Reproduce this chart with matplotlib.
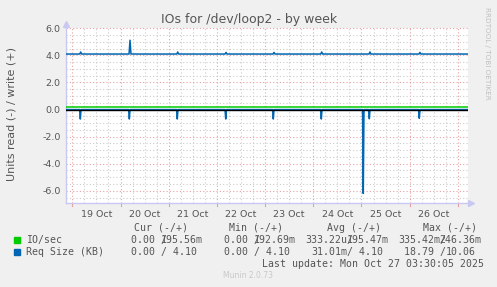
import matplotlib
matplotlib.use("Agg")
import matplotlib.pyplot as plt
from matplotlib.patches import Rectangle

# -------------------- data (days since 18 Oct 00:00) -------------------- #
x_start, x_end = 0.869, 9.216
day_ticks = [1.5, 2.5, 3.5, 4.5, 5.5, 6.5, 7.5, 8.5]
day_labels = ["19 Oct", "20 Oct", "21 Oct", "22 Oct", "23 Oct", "24 Oct", "25 Oct", "26 Oct"]

io_write = 0.195          # IO/sec (+), flat all week
io_read = 0.0             # IO/sec (-), ~333u

req_write_base = 4.10
req_write_spike_days = [1.174, 2.197, 3.187, 4.189, 5.185, 6.174, 7.176, 8.213]
req_write_spike_vals = [4.25, 5.12, 4.25, 4.22, 4.22, 4.25, 4.25, 4.22]

req_read_base = 0.0
req_read_spike_days = [1.166, 2.183, 3.178, 4.183, 5.170, 6.166, 7.037, 7.162, 8.199]
req_read_spike_vals = [-0.70, -0.70, -0.70, -0.70, -0.70, -0.70, -6.20, -0.68, -0.65]

legend_names = ["IO/sec", "Req Size (KB)"]
legend_colors = ["#00CC00", "#0066B3"]
cur_vals = [("0.00 ", "195.56m"), ("0.00 ", " 4.10")]
min_vals = [("0.00 ", "192.69m"), ("0.00 ", " 4.10")]
avg_vals = [("333.22u", "195.47m"), ("31.01m", " 4.10")]
max_vals = [("335.42m", "246.36m"), ("18.79 ", "10.06")]

W, H = 497, 287
BG = "#F0F0F0"
TXT = "#555555"
AXC = "#C8C8F0"
MONO = "DejaVu Sans Mono"


def spiky(base, days, vals, half=0.02):
    ts, vs = [x_start], [base]
    for d, v in zip(days, vals):
        ts += [d - half, d, d + half]
        vs += [base, v, base]
    ts.append(x_end)
    vs.append(base)
    return ts, vs


def fx(px):
    return px / W


def fy(py):
    return 1 - py / H


fig = plt.figure(figsize=(W / 100, H / 100), dpi=100, facecolor=BG)
ax = fig.add_axes([fx(66), fy(203.4), fx(468.3) - fx(66), fy(28.3) - fy(203.4)])
ax.set_facecolor("white")
ax.set_xlim(x_start, x_end)
ax.set_ylim(-6.93, 6.0)

# grid: pink majors, grey minors (6h / 0.5)
for d in range(1, 10):
    ax.axvline(d, color="#E8A0A0", lw=0.8, ls=(0, (1, 2)), zorder=1)
for q in range(4, 37):
    if q % 4:
        ax.axvline(q / 4, color="#CCCCCC", lw=0.8, ls=(0, (1, 2)), zorder=1)
for k in range(-13, 13):
    y = k * 0.5
    if k % 4 == 0:
        ax.axhline(y, color="#E8A0A0", lw=0.8, ls=(0, (1, 2)), zorder=1, clip_on=False)
    else:
        ax.axhline(y, color="#CCCCCC", lw=0.8, ls=(0, (1, 2)), zorder=1)

# series
t, v = spiky(req_write_base, req_write_spike_days, req_write_spike_vals)
ax.plot(t, v, color=legend_colors[1], lw=1.1, zorder=3)
t, v = spiky(req_read_base, req_read_spike_days, req_read_spike_vals, half=0.015)
ax.plot(t, v, color=legend_colors[1], lw=1.1, zorder=3)
ax.plot([x_start, x_end], [io_write, io_write], color=legend_colors[0], lw=1.1, zorder=4)
ax.plot([x_start, x_end], [io_read, io_read], color="black", lw=1.0, zorder=5)

# axes with arrows
for s in ["top", "right"]:
    ax.spines[s].set_visible(False)
for s in ["left", "bottom"]:
    ax.spines[s].set_color(AXC)
    ax.spines[s].set_linewidth(1.0)
ax.plot([0, 0], [1.0, 1.025], color=AXC, lw=1.0, transform=ax.transAxes, clip_on=False)
ax.plot([1.0, 1.006], [0, 0], color=AXC, lw=1.0, transform=ax.transAxes, clip_on=False)
ax.plot([0], [1.025], marker="^", ms=4, color=AXC, transform=ax.transAxes, clip_on=False)
ax.plot([1.006], [0], marker=">", ms=4, color=AXC, transform=ax.transAxes, clip_on=False)

ax.set_xticks(day_ticks)
ax.set_xticklabels(day_labels)
ax.set_yticks([-6, -4, -2, 0, 2, 4, 6])
ax.set_yticklabels(["-6.0", "-4.0", "-2.0", "0.0", "2.0", "4.0", "6.0"])
ax.tick_params(length=0, labelsize=6.8, colors=TXT, pad=4)
ax.tick_params(axis="x", pad=5)
for d in range(1, 10):
    ax.plot([d, d], [-0.012, 0], color="#E8A0A0", lw=0.8, transform=ax.get_xaxis_transform(), clip_on=False)

fig.text(fx(248.7), fy(19.3), "IOs for /dev/loop2 - by week", ha="center", va="center",
         fontsize=9, color=TXT)
fig.text(fx(11.5), fy(114), "Units read (-) / write (+)", rotation=90, ha="center", va="center",
         fontsize=8, color=TXT)
fig.text(fx(487.3), fy(53), "RRDTOOL / TOBI OETIKER", rotation=270, ha="center", va="center",
         fontsize=5.2, color="#C0C0C0")
fig.text(fx(248), fy(276), "Munin 2.0.73", ha="center", va="center", fontsize=5.5, color="#C8C8C8")

# legend block
CW = 5.93


def mono(x, y, s):
    fig.text(fx(x), fy(y), s, ha="left", va="center", fontsize=7.1, family=MONO, color=TXT)


def cell(x, y, neg, pos, overlap):
    # first row: rrdtool draws the slash on top of the first char of the + value
    mono(x, y, neg)
    mono(x + len(neg) * CW, y, "/")
    mono(x + (len(neg) + (0 if overlap else 1)) * CW, y, pos)


mono(134, 227.7, "Cur (-/+)")
mono(229, 227.7, "Min (-/+)")
mono(327, 227.7, "Avg (-/+)")
mono(423, 227.7, "Max (-/+)")
rows_y = [239.7, 251.7]
for i, name in enumerate(legend_names):
    y = rows_y[i]
    ov = i == 0
    fig.patches.append(Rectangle((fx(14), fy(y + 3)), fx(6), fy(0) - fy(6), color=legend_colors[i],
                                 transform=fig.transFigure, figure=fig))
    mono(26, y, name)
    cell(131.3, y, cur_vals[i][0], cur_vals[i][1], ov)
    cell(224, y, min_vals[i][0], min_vals[i][1], ov)
    cell(305 if i == 0 else 311, y, avg_vals[i][0], avg_vals[i][1], ov)
    cell(398.3 if i == 0 else 404.3, y, max_vals[i][0], max_vals[i][1], ov)
mono(261.7, 263.7, "Last update: Mon Oct 27 03:30:05 2025")

fig.savefig("out.png", dpi=100, facecolor=BG)
